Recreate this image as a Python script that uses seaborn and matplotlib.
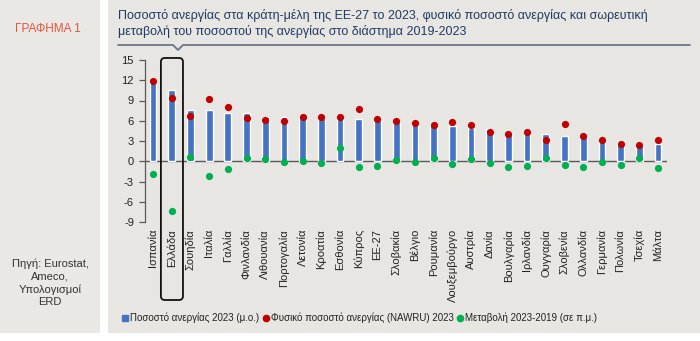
import matplotlib
matplotlib.use("Agg")
import matplotlib.pyplot as plt
from matplotlib.patches import Rectangle, FancyBboxPatch
from matplotlib.lines import Line2D
from matplotlib.transforms import IdentityTransform
import seaborn as sns
import pandas as pd

countries = ["Ισπανία", "Ελλάδα", "Σουηδία", "Ιταλία", "Γαλλία", "Φινλανδία",
             "Λιθουανία", "Πορτογαλία", "Λετονία", "Κροατία", "Εσθονία", "Κύπρος",
             "ΕΕ-27", "Σλοβακία", "Βέλγιο", "Ρουμανία", "Λουξεμβούργο", "Αυστρία",
             "Δανία", "Βουλγαρία", "Ιρλανδία", "Ουγγαρία", "Σλοβενία", "Ολλανδία",
             "Γερμανία", "Πολωνία", "Τσεχία", "Μάλτα"]
unemployment_2023 = [12.0, 10.6, 7.6, 7.6, 7.2, 7.2, 6.6, 6.6, 6.5, 6.4, 6.4, 6.2,
                     6.1, 5.8, 5.5, 5.4, 5.2, 5.0, 4.8, 4.2, 4.2, 4.0, 3.8, 3.6,
                     3.0, 2.7, 2.6, 2.5]
nawru_2023 = [11.9, 9.4, 6.7, 9.2, 8.0, 6.4, 6.1, 6.0, 6.6, 6.5, 6.5, 7.7,
              6.2, 5.9, 5.6, 5.4, 5.8, 5.3, 4.3, 4.0, 4.3, 3.2, 5.5, 3.8,
              3.1, 2.6, 2.4, 3.2]
change_2019_2023 = [-1.9, -7.3, 0.7, -2.2, -1.1, 0.5, 0.4, -0.1, 0.1, -0.3, 2.0, -0.9,
                    -0.7, 0.2, -0.1, 0.5, -0.4, 0.4, -0.2, -0.9, -0.7, 0.5, -0.6, -0.9,
                    -0.1, -0.6, 0.5, -1.0]
y_ticks = [-9, -6, -3, 0, 3, 6, 9, 12, 15]
highlight = "Ελλάδα"

legend_labels = ["Ποσοστό ανεργίας 2023 (μ.ο.)",
                 "Φυσικό ποσοστό ανεργίας (NAWRU) 2023",
                 "Μεταβολή 2023-2019 (σε π.μ.)"]

df = pd.DataFrame({"country": countries, "rate": unemployment_2023,
                   "nawru": nawru_2023, "change": change_2019_2023})

BLUE = "#4472C4"
RED = "#C00000"
GREEN = "#00B050"
PANEL = "#E7E6E2"
NAVY = "#1F3A63"
AXIS = "#595959"

sns.set_theme(style="white")
plt.rcParams["font.family"] = ["Liberation Sans", "DejaVu Sans"]
plt.rcParams["axes.unicode_minus"] = False

W, H = 700, 341
fig = plt.figure(figsize=(W / 100, H / 100), dpi=100)
fig.patch.set_facecolor("white")

# background panels
fig.add_artist(Rectangle((0, 1 - 333 / H), 100 / W, 333 / H,
                         transform=fig.transFigure, facecolor="#E9E8E5",
                         edgecolor="none", zorder=0))
fig.add_artist(Rectangle((108 / W, 1 - 333 / H), (W - 108) / W, 333 / H,
                         transform=fig.transFigure, facecolor=PANEL,
                         edgecolor="none", zorder=0))

# header
fig.text(48 / W, 1 - 29 / H, "ΓΡΑΦΗΜΑ 1", color="#E2553F", fontsize=8.5,
         ha="center", va="center")
fig.text(118 / W, 1 - 24 / H,
         "Ποσοστό ανεργίας στα κράτη-μέλη της ΕΕ-27 το 2023, φυσικό ποσοστό ανεργίας και σωρευτική\n"
         "μεταβολή του ποσοστού της ανεργίας στο διάστημα 2019-2023",
         color=NAVY, fontsize=9, ha="left", va="center", linespacing=1.3)
fig.add_artist(Line2D([118 / W, 173 / W, 178 / W, 183 / W, 690 / W],
                      [1 - 45 / H, 1 - 45 / H, 1 - 50 / H, 1 - 45 / H, 1 - 45 / H],
                      transform=fig.transFigure, color="#6B7688", lw=1.3))

# source note
fig.text(50 / W, 1 - 283 / H, "Πηγή: Eurostat,\nAmeco,\nΥπολογισμοί\nERD",
         color="#333333", fontsize=8, ha="center", va="center", linespacing=1.3)

ax = fig.add_axes([145 / W, 1 - 222 / H, (667 - 145) / W, (222 - 60) / H])
ax.set_facecolor("none")

sns.barplot(data=df, x="country", y="rate", color=BLUE, width=0.36,
            saturation=1, ax=ax, zorder=2)
sns.stripplot(data=df, x="country", y="nawru", color=RED, jitter=False,
              size=5.2, linewidth=0, ax=ax, zorder=3)
sns.stripplot(data=df, x="country", y="change", color=GREEN, jitter=False,
              size=5.2, linewidth=0, ax=ax, zorder=4)

ax.set_xlim(-0.43, len(countries) - 1 + 0.48)
ax.set_ylim(min(y_ticks), max(y_ticks))
ax.set_yticks(y_ticks)
ax.set_xlabel("")
ax.set_ylabel("")
for s in ["top", "right", "bottom"]:
    ax.spines[s].set_visible(False)
ax.spines["left"].set_color(AXIS)
ax.spines["left"].set_linewidth(0.9)
ax.axhline(0, color=AXIS, lw=1.0, zorder=1)
ax.tick_params(axis="y", which="major", left=True, length=4, width=0.9,
               color=AXIS, labelsize=8, labelcolor="#222222", pad=4)
ax.tick_params(axis="x", length=0, labelsize=8, labelcolor="#222222", pad=5)
plt.setp(ax.get_xticklabels(), rotation=90, va="top", ha="center")

# frame around the highlighted country
fig.canvas.draw()
gi = countries.index(highlight)
x0 = ax.transData.transform((gi - 0.58, 0))[0]
x1 = ax.transData.transform((gi + 0.6, 0))[0]
y_top = ax.transData.transform((0, max(y_ticks) + 0.3))[1]
y_bot = H - 300
fig.add_artist(FancyBboxPatch((x0, y_bot), x1 - x0, y_top - y_bot,
                              boxstyle="round,pad=0,rounding_size=4",
                              transform=IdentityTransform(), facecolor="none",
                              edgecolor="#111111", lw=1.3, zorder=5))

handles = [Line2D([], [], marker="s", color=BLUE, ls="none", markersize=4),
           Line2D([], [], marker="o", color=RED, ls="none", markersize=4.5),
           Line2D([], [], marker="o", color=GREEN, ls="none", markersize=4.5)]
fig.legend(handles, legend_labels, loc="center left",
           bbox_to_anchor=(122 / W, 1 - 318 / H), ncol=3, frameon=False,
           fontsize=7, handlelength=0.6, handletextpad=0.2, columnspacing=0.4,
           borderaxespad=0, borderpad=0, labelcolor="#222222")

fig.savefig("out.png", dpi=100, facecolor=fig.get_facecolor())
